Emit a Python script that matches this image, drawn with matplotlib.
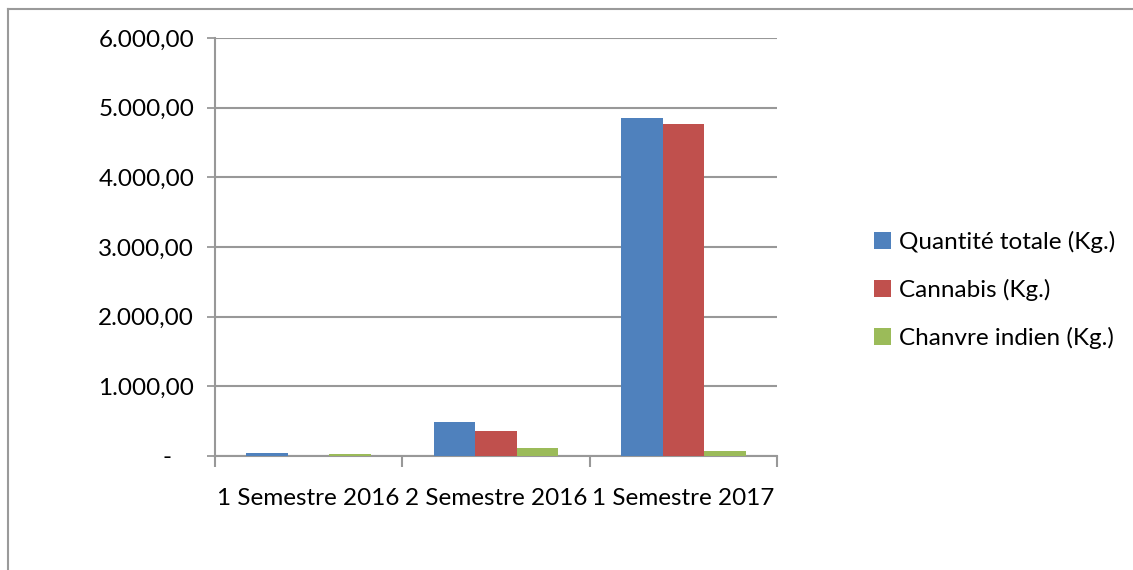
import matplotlib.pyplot as plt
from matplotlib.lines import Line2D
from matplotlib.ticker import FixedLocator
import matplotlib.transforms as mtransforms
import numpy as np

plt.rcParams['font.family'] = ['Lato', 'DejaVu Sans']

# données (kg)
categories = ["1 Semestre 2016", "2 Semestre 2016", "1 Semestre 2017"]
series_names = ["Quantité totale (Kg.)", "Cannabis (Kg.)", "Chanvre indien (Kg.)"]
quantite_totale = [43, 488, 4848]
cannabis = [0, 364, 4766]
chanvre_indien = [34, 115, 72]
yticks = [0, 1000, 2000, 3000, 4000, 5000, 6000]
ytick_labels = ["-", "1.000,00", "2.000,00", "3.000,00", "4.000,00", "5.000,00", "6.000,00"]

colors = ['#4F81BD', '#C0504D', '#9BBB59']
grid_col = '#989898'
fs = 17.5

fig = plt.figure(figsize=(11.33, 5.70), dpi=100)
ax = fig.add_axes([215 / 1133, 1 - 456 / 570, 562 / 1133, 418 / 570])

x = np.arange(len(categories))
w = 1 / 4.5
for i, vals in enumerate([quantite_totale, cannabis, chanvre_indien]):
    ax.bar(x + (i - 1) * w, vals, width=w, color=colors[i], label=series_names[i], zorder=3)

ax.set_xlim(-0.5, len(categories) - 0.5)
ax.set_ylim(0, 6000)
ax.set_yticks(yticks)
ax.set_yticklabels(ytick_labels, fontsize=fs)
ax.yaxis.grid(True, color=grid_col, linewidth=1.5, zorder=0)
ax.tick_params(axis='y', length=6, width=1.3, color=grid_col, pad=9)

# le "-" du zéro est décalé vers la gauche (format comptable)
zero_lbl = ax.get_yticklabels()[0]
zero_lbl.set_transform(zero_lbl.get_transform()
                       + mtransforms.ScaledTranslation(-23 / 100, 0, fig.dpi_scale_trans))

# x : graduations entre les catégories, étiquettes au centre
ax.xaxis.set_major_locator(FixedLocator([-0.5, 0.5, 1.5, 2.5]))
ax.xaxis.set_major_formatter(plt.NullFormatter())
ax.xaxis.set_minor_locator(FixedLocator(list(x)))
ax.set_xticklabels(categories, minor=True, fontsize=fs)
ax.tick_params(axis='x', which='major', length=8, width=1.5, color=grid_col, direction='out')
ax.tick_params(axis='x', which='minor', length=0, pad=23)

for s in ['top', 'right']:
    ax.spines[s].set_visible(False)
for s in ['left', 'bottom']:
    ax.spines[s].set_color(grid_col)
    ax.spines[s].set_linewidth(1.5)

ax.legend(loc='center left', bbox_to_anchor=(1.155, 0.397), frameon=False, fontsize=fs,
          handlelength=0.7, handleheight=0.7, handletextpad=0.35, labelspacing=1.05,
          borderaxespad=0)

# cadre du graphique
fig.add_artist(Line2D([8 / 1133, 1], [1 - 9 / 570, 1 - 9 / 570], color='#9a9a9a', linewidth=1.5))
fig.add_artist(Line2D([8 / 1133, 8 / 1133], [0, 1 - 9 / 570], color='#9a9a9a', linewidth=1.5))

plt.savefig("out.png", dpi=100)
